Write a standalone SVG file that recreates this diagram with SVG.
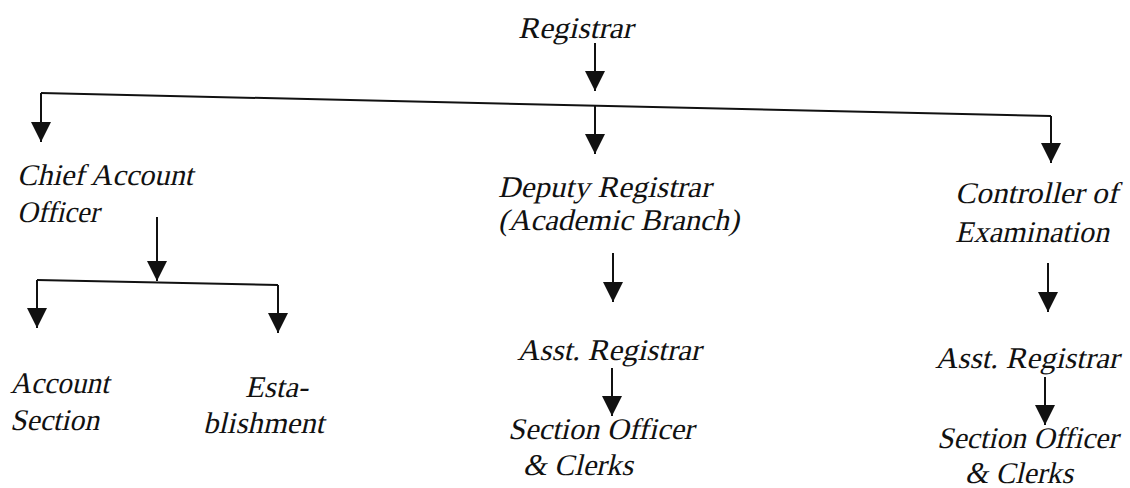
<svg xmlns="http://www.w3.org/2000/svg" width="1130" height="488" viewBox="0 0 1130 488">
<style>
text{font-family:'Liberation Serif',serif;font-style:normal;font-size:30px;fill:#111}
.c{fill:none;stroke:#111;stroke-width:2}
</style>
<defs>
<marker id="ah" markerUnits="userSpaceOnUse" markerWidth="20" markerHeight="20" refX="20" refY="10" orient="auto" viewBox="0 0 20 20">
<path d="M0,0 L20,10 L0,20 z" fill="#111"/>
</marker>
</defs>
<rect width="1130" height="488" fill="#fff"/>
<g id="connectors">
<path class="c" d="M595,43 V91" marker-end="url(#ah)"/>
<path class="c" d="M41,93 L1051,116"/>
<path class="c" d="M41,93 V142" marker-end="url(#ah)"/>
<path class="c" d="M595,105.6 V154" marker-end="url(#ah)"/>
<path class="c" d="M1051,116 V163" marker-end="url(#ah)"/>
<path class="c" d="M157,217 V281" marker-end="url(#ah)"/>
<path class="c" d="M37,280 L278,285"/>
<path class="c" d="M37,280 V328" marker-end="url(#ah)"/>
<path class="c" d="M278,285 V333" marker-end="url(#ah)"/>
<path class="c" d="M613,253 V302" marker-end="url(#ah)"/>
<path class="c" d="M612,368 V416" marker-end="url(#ah)"/>
<path class="c" d="M1048,263 V312" marker-end="url(#ah)"/>
<path class="c" d="M1045,377 V425" marker-end="url(#ah)"/>
</g>
<g id="registrar"><text transform="translate(518,38) skewX(-13)" textLength="115" lengthAdjust="spacingAndGlyphs">Registrar</text></g>
<g id="chief-account-officer"><text transform="translate(17,185) skewX(-13)" textLength="176" lengthAdjust="spacingAndGlyphs">Chief Account</text><text transform="translate(17,222) skewX(-13)" textLength="82" lengthAdjust="spacingAndGlyphs">Officer</text></g>
<g id="deputy-registrar"><text transform="translate(498,197) skewX(-13)" textLength="213" lengthAdjust="spacingAndGlyphs">Deputy Registrar</text><text transform="translate(498,230) skewX(-13)" textLength="241" lengthAdjust="spacingAndGlyphs">(Academic Branch)</text></g>
<g id="controller-of-examination"><text transform="translate(955,203) skewX(-13)" textLength="163" lengthAdjust="spacingAndGlyphs">Controller of</text><text transform="translate(955,242) skewX(-13)" textLength="154" lengthAdjust="spacingAndGlyphs">Examination</text></g>
<g id="account-section"><text transform="translate(10,393) skewX(-13)" textLength="99" lengthAdjust="spacingAndGlyphs">Account</text><text transform="translate(10,430) skewX(-13)" textLength="89" lengthAdjust="spacingAndGlyphs">Section</text></g>
<g id="establishment"><text transform="translate(245,397) skewX(-13)" textLength="63" lengthAdjust="spacingAndGlyphs">Esta-</text><text transform="translate(203,433) skewX(-13)" textLength="121" lengthAdjust="spacingAndGlyphs">blishment</text></g>
<g id="asst-registrar-academic"><text transform="translate(517,360) skewX(-13)" textLength="184" lengthAdjust="spacingAndGlyphs">Asst. Registrar</text></g>
<g id="section-officer-academic"><text transform="translate(508,439) skewX(-13)" textLength="186" lengthAdjust="spacingAndGlyphs">Section Officer</text><text transform="translate(523,475) skewX(-13)" textLength="110" lengthAdjust="spacingAndGlyphs">&amp; Clerks</text></g>
<g id="asst-registrar-exam"><text transform="translate(935,368) skewX(-13)" textLength="184" lengthAdjust="spacingAndGlyphs">Asst. Registrar</text></g>
<g id="section-officer-exam"><text transform="translate(937,448) skewX(-13)" textLength="181" lengthAdjust="spacingAndGlyphs">Section Officer</text><text transform="translate(965,483) skewX(-13)" textLength="108" lengthAdjust="spacingAndGlyphs">&amp; Clerks</text></g>
</svg>
